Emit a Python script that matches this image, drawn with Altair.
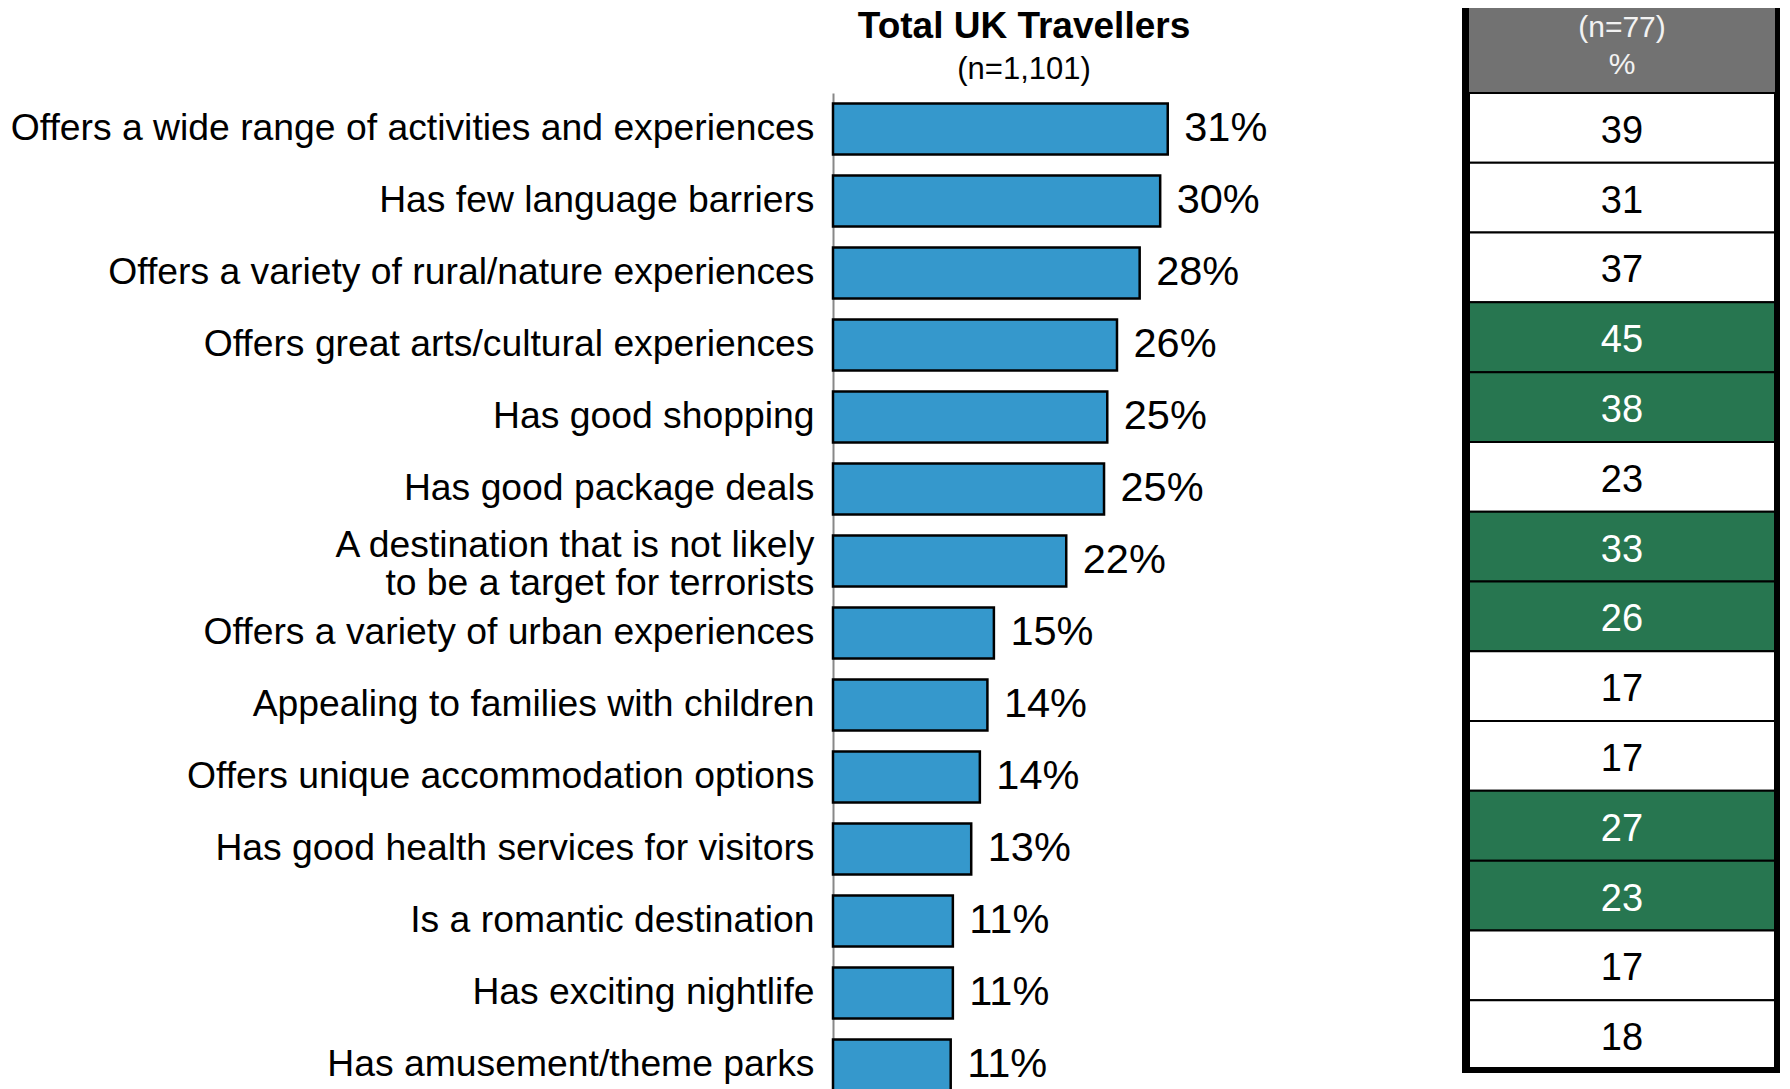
import altair as alt
import pandas as pd

# ---------------- data ----------------
categories = [
    "Offers a wide range of activities and experiences",
    "Has few language barriers",
    "Offers a variety of rural/nature experiences",
    "Offers great arts/cultural experiences",
    "Has good shopping",
    "Has good package deals",
    "A destination that is not likely|to be a target for terrorists",
    "Offers a variety of urban experiences",
    "Appealing to families with children",
    "Offers unique accommodation options",
    "Has good health services for visitors",
    "Is a romantic destination",
    "Has exciting nightlife",
    "Has amusement/theme parks",
]
total_pct = [31.0, 30.3, 28.4, 26.3, 25.4, 25.1, 21.6, 14.9, 14.3, 13.6, 12.8, 11.1, 11.1, 10.9]
visit_pct = [39, 31, 37, 45, 38, 23, 33, 26, 17, 17, 27, 23, 17, 18]
visit_high = [False, False, False, True, True, False, True, True, False, False, True, True, False, False]

title_main = "Total UK Travellers"
title_n = "(n=1,101)"
table_n = "(n=77)"
table_unit = "%"

FONT = "Liberation Sans"
BAR_W = 460
BAR_H = 1008
TAB_W = 306
TAB_H = 977
HEAD = 85

df = pd.DataFrame({"cat": categories, "total": total_pct, "visit": visit_pct, "high": visit_high})
one = pd.DataFrame({"k": [0]})

# ---------------- bar panel ----------------
ysc_bar = alt.Scale(domain=categories, paddingInner=0.29, paddingOuter=0.145)
xsc_bar = alt.Scale(domain=[0, 42.6], nice=False, zero=True)

bars = alt.Chart(df).mark_bar(color="#3598CC", stroke="black", strokeWidth=2.5).encode(
    y=alt.Y("cat:N", scale=ysc_bar, axis=alt.Axis(
        title=None, labelFont=FONT, labelFontSize=37.3, labelColor="black",
        labelLimit=2000, labelPadding=19, ticks=False, domainColor="#888888",
        domainWidth=2, labelExpr="split(datum.label, '|')", labelLineHeight=38,
        labelOffset={"condition": {"test": "indexof(datum.label, '|') >= 0", "value": -15}, "value": 0},
    )),
    x=alt.X("total:Q", scale=xsc_bar, axis=None),
)

pct_labels = alt.Chart(df).transform_calculate(
    lbl="format(datum.total, '.0f') + '%'"
).mark_text(align="left", baseline="middle", dx=16.5, font=FONT, fontSize=41.5, color="black").encode(
    y=alt.Y("cat:N", scale=ysc_bar),
    x=alt.X("total:Q", scale=xsc_bar),
    text="lbl:N",
)

t1 = alt.Chart(one).mark_text(
    text=title_main, font=FONT, fontSize=37, fontWeight="bold", align="center",
    baseline="top", color="black"
).encode(x=alt.value(191), y=alt.value(-84.4))
t2 = alt.Chart(one).mark_text(
    text=title_n, font=FONT, fontSize=31, align="center", baseline="alphabetic", color="black"
).encode(x=alt.value(191), y=alt.value(-14))

bar_panel = alt.layer(bars, pct_labels, t1, t2).properties(width=BAR_W, height=BAR_H)

# ---------------- table panel ----------------
tsc = alt.Scale(domain=categories, paddingInner=0, paddingOuter=0)

cells = alt.Chart(df).mark_rect(stroke="black", strokeWidth=2).encode(
    y=alt.Y("cat:N", scale=tsc, axis=None),
    x=alt.value(0), x2=alt.value(TAB_W),
    fill=alt.condition("datum.high", alt.value("#277650"), alt.value("white")),
)
nums = alt.Chart(df).mark_text(font=FONT, fontSize=38, baseline="middle", align="center", dy=4).encode(
    y=alt.Y("cat:N", scale=tsc, axis=None),
    x=alt.value(TAB_W / 2),
    text="visit:Q",
    color=alt.condition("datum.high", alt.value("white"), alt.value("black")),
)
head = alt.Chart(one).mark_rect(fill="#727272").encode(
    x=alt.value(0), x2=alt.value(TAB_W), y=alt.value(-HEAD), y2=alt.value(0)
)
h1 = alt.Chart(one).mark_text(
    text=table_n, font=FONT, fontSize=30, align="center", baseline="alphabetic", color="#f2f2f2"
).encode(x=alt.value(TAB_W / 2), y=alt.value(-56.5))
h2 = alt.Chart(one).mark_text(
    text=table_unit, font=FONT, fontSize=30, align="center", baseline="alphabetic", color="#f2f2f2"
).encode(x=alt.value(TAB_W / 2), y=alt.value(-19))
head_line = alt.Chart(one).mark_rect(fill="black").encode(
    x=alt.value(0), x2=alt.value(TAB_W), y=alt.value(-1), y2=alt.value(1)
)
left_b = alt.Chart(one).mark_rect(fill="black").encode(
    x=alt.value(-7), x2=alt.value(0), y=alt.value(-HEAD), y2=alt.value(TAB_H + 3)
)
right_b = alt.Chart(one).mark_rect(fill="black").encode(
    x=alt.value(TAB_W), x2=alt.value(TAB_W + 5), y=alt.value(-HEAD), y2=alt.value(TAB_H + 3)
)
bottom_b = alt.Chart(one).mark_rect(fill="black").encode(
    x=alt.value(-7), x2=alt.value(TAB_W + 5), y=alt.value(TAB_H - 3), y2=alt.value(TAB_H + 3)
)

table_panel = alt.layer(head, cells, nums, h1, h2, head_line, left_b, right_b, bottom_b).properties(
    width=TAB_W, height=TAB_H
)

chart = alt.hconcat(bar_panel, table_panel, spacing=169).properties(
    padding={"left": 2, "top": -1, "right": 0, "bottom": 0}, background="white"
).configure_view(stroke=None)

chart.save("out.html", embed_options={"renderer": "svg", "actions": False})
